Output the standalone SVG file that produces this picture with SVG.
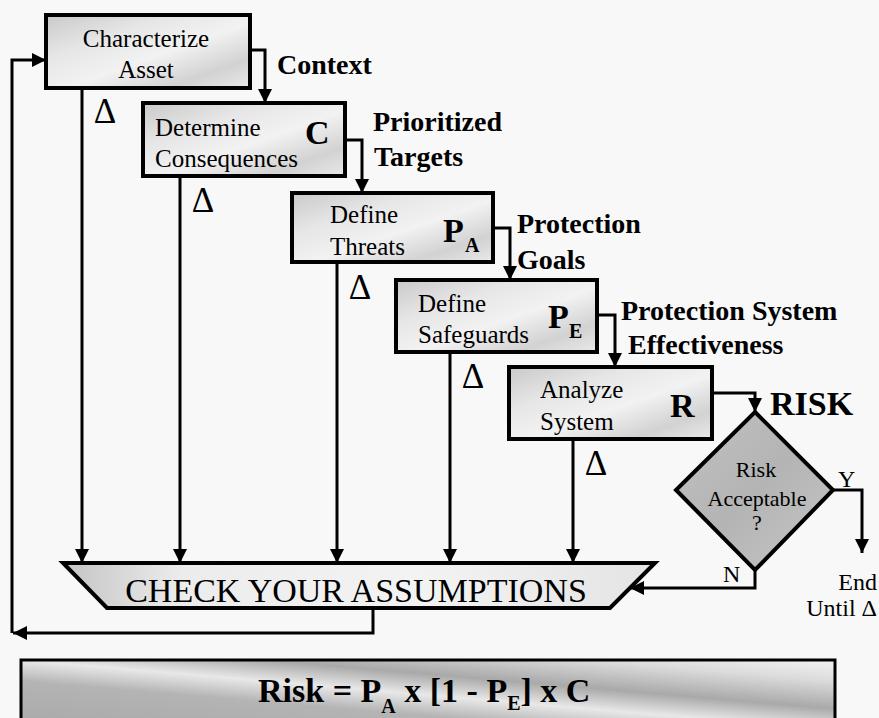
<svg xmlns="http://www.w3.org/2000/svg" width="879" height="718" viewBox="0 0 879 718">
  <style>
    .box { stroke: #000; stroke-width: 4; }
    .ln { fill: none; stroke: #000; stroke-width: 3; }
    .t { font-family: "Liberation Serif", "Times New Roman", serif; font-size: 25px; fill: #000; }
    .b { font-family: "Liberation Serif", "Times New Roman", serif; font-weight: bold; font-size: 28px; fill: #000; }
    .big { font-family: "Liberation Serif", "Times New Roman", serif; font-weight: bold; font-size: 34px; fill: #000; }
    .sub { font-family: "Liberation Serif", "Times New Roman", serif; font-weight: bold; font-size: 20px; fill: #000; }
    .d { font-family: "Liberation Serif", "Times New Roman", serif; font-size: 35px; fill: #000; }
    .dt { font-family: "Liberation Serif", "Times New Roman", serif; font-size: 22px; fill: #000; }
    .e { font-family: "Liberation Serif", "Times New Roman", serif; font-size: 24px; fill: #000; }
  </style>
  <defs>
    <marker id="arr" markerUnits="userSpaceOnUse" markerWidth="14" markerHeight="14" refX="14" refY="7" orient="auto">
      <path d="M0,0 L14,7 L0,14 z" fill="#000"/>
    </marker>
    <linearGradient id="mott" x1="0" y1="0" x2="1" y2="1">
      <stop offset="0" stop-color="#c9c9c9"/>
      <stop offset="0.3" stop-color="#e6e6e6"/>
      <stop offset="0.55" stop-color="#f2f2f2"/>
      <stop offset="0.8" stop-color="#d2d2d2"/>
      <stop offset="1" stop-color="#e9e9e9"/>
    </linearGradient>
    <linearGradient id="dia" x1="0" y1="0" x2="1" y2="1">
      <stop offset="0" stop-color="#c2c2c2"/>
      <stop offset="0.5" stop-color="#b4b4b4"/>
      <stop offset="1" stop-color="#c6c6c6"/>
    </linearGradient>
    <linearGradient id="par" x1="0" y1="0" x2="1" y2="0">
      <stop offset="0" stop-color="#c4c4c4"/>
      <stop offset="0.2" stop-color="#ececec"/>
      <stop offset="0.6" stop-color="#f3f3f3"/>
      <stop offset="1" stop-color="#e4e4e4"/>
    </linearGradient>
    <linearGradient id="form" x1="0" y1="1" x2="1" y2="0">
      <stop offset="0" stop-color="#a8a8a8"/>
      <stop offset="0.35" stop-color="#b4b4b4"/>
      <stop offset="0.5" stop-color="#e8e8e8"/>
      <stop offset="0.65" stop-color="#a9a9a9"/>
      <stop offset="0.85" stop-color="#dcdcdc"/>
      <stop offset="1" stop-color="#f2f2f2"/>
    </linearGradient>
  </defs>
  <rect width="879" height="718" fill="#f8f8f8"/>

  <g id="connectors">
    <path class="ln" d="M250,50 H265 V103" marker-end="url(#arr)"/>
    <path class="ln" d="M345,140 H362 V193" marker-end="url(#arr)"/>
    <path class="ln" d="M493,228 H510 V280" marker-end="url(#arr)"/>
    <path class="ln" d="M597,315 H615 V367" marker-end="url(#arr)"/>
    <path class="ln" d="M712,393 H755 V412" marker-end="url(#arr)"/>
    <path class="ln" d="M833,490 H862 V553" marker-end="url(#arr)"/>
    <path class="ln" d="M755,570 V588 H630" marker-end="url(#arr)"/>
    <path class="ln" d="M82,88 V563" marker-end="url(#arr)"/>
    <path class="ln" d="M180,176 V563" marker-end="url(#arr)"/>
    <path class="ln" d="M337,262 V563" marker-end="url(#arr)"/>
    <path class="ln" d="M450,352 V563" marker-end="url(#arr)"/>
    <path class="ln" d="M573,439 V563" marker-end="url(#arr)"/>
    <path class="ln" d="M373,608 V633 H13" marker-end="url(#arr)"/>
    <path class="ln" d="M12,633 V60 H46" marker-end="url(#arr)"/>
  </g>

  <g id="labels">
    <text class="b" x="277" y="74">Context</text>
    <text class="b" x="373" y="131">Prioritized</text>
    <text class="b" x="374" y="166">Targets</text>
    <text class="b" x="517" y="233">Protection</text>
    <text class="b" x="517" y="269">Goals</text>
    <text class="b" x="621" y="320">Protection System</text>
    <text class="b" x="628" y="354">Effectiveness</text>
    <text class="big" x="770" y="415">RISK</text>
    <text class="d" x="105" y="123" text-anchor="middle">Δ</text>
    <text class="d" x="203" y="212" text-anchor="middle">Δ</text>
    <text class="d" x="360" y="299" text-anchor="middle">Δ</text>
    <text class="d" x="473" y="388" text-anchor="middle">Δ</text>
    <text class="d" x="596" y="475" text-anchor="middle">Δ</text>
    <text class="e" x="838" y="487">Y</text>
    <text class="e" x="723" y="582">N</text>
    <text class="e" x="877" y="590" text-anchor="end">End</text>
    <text class="e" x="877" y="616" text-anchor="end">Until Δ</text>
  </g>

  <g id="characterize">
    <rect class="box" x="46" y="15" width="204" height="73" fill="url(#mott)"/>
    <text class="t" x="146" y="47" text-anchor="middle">Characterize</text>
    <text class="t" x="146" y="78" text-anchor="middle">Asset</text>
  </g>

  <g id="consequences">
    <rect class="box" x="143" y="103" width="202" height="73" fill="url(#mott)"/>
    <text class="t" x="155" y="136">Determine</text>
    <text class="t" x="155" y="167">Consequences</text>
    <text class="big" x="305" y="144">C</text>
  </g>

  <g id="threats">
    <rect class="box" x="292" y="193" width="201" height="69" fill="url(#mott)"/>
    <text class="t" x="330" y="223">Define</text>
    <text class="t" x="330" y="255">Threats</text>
    <text class="big" x="443" y="242">P</text>
    <text class="sub" x="465" y="252">A</text>
  </g>

  <g id="safeguards">
    <rect class="box" x="396" y="280" width="201" height="72" fill="url(#mott)"/>
    <text class="t" x="418" y="312">Define</text>
    <text class="t" x="418" y="343">Safeguards</text>
    <text class="big" x="548" y="328">P</text>
    <text class="sub" x="569" y="338">E</text>
  </g>

  <g id="analyze">
    <rect class="box" x="509" y="367" width="203" height="72" fill="url(#mott)"/>
    <text class="t" x="540" y="398">Analyze</text>
    <text class="t" x="540" y="430">System</text>
    <text class="big" x="670" y="417">R</text>
  </g>

  <g id="decision">
    <polygon class="box" points="755,412 833,490 755,570 676,490" fill="url(#dia)"/>
    <text class="dt" x="756" y="477" text-anchor="middle">Risk</text>
    <text class="dt" x="757" y="506" text-anchor="middle">Acceptable</text>
    <text class="dt" x="757" y="530" text-anchor="middle">?</text>
  </g>

  <g id="check">
    <polygon class="box" points="63,563 655,563 610,608 107,608" fill="url(#par)"/>
    <text class="big" x="356" y="602" text-anchor="middle" style="font-weight:normal">CHECK YOUR ASSUMPTIONS</text>
  </g>

  <g id="formula">
    <rect x="21" y="660" width="814" height="70" fill="url(#form)" stroke="#000" stroke-width="3"/>
    <text class="big" x="258" y="702">Risk = P<tspan class="sub" dy="11">A</tspan><tspan dy="-11"> x [1 - P</tspan><tspan class="sub" dy="8">E</tspan><tspan dy="-8">] x C</tspan></text>
  </g>
</svg>
